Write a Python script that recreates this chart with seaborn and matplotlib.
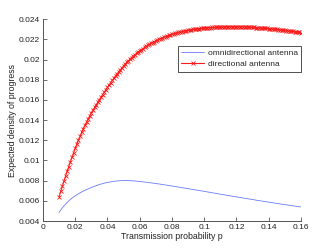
#Import Libraries
import pandas as pd
import matplotlib
matplotlib.use('Agg')
import matplotlib.pyplot as plt
import seaborn as sns

#Data
#omnidirectional antenna (plain line)
p_omni = [0.010, 0.012, 0.014, 0.016, 0.018, 0.020, 0.022, 0.024, 0.026, 0.028,
          0.030, 0.032, 0.034, 0.036, 0.038, 0.040, 0.042, 0.044, 0.046, 0.048,
          0.050, 0.052, 0.054, 0.056, 0.058, 0.060, 0.062, 0.064, 0.066, 0.068,
          0.070, 0.072, 0.074, 0.076, 0.078, 0.080, 0.082, 0.084, 0.086, 0.088,
          0.090, 0.092, 0.094, 0.096, 0.098, 0.100, 0.102, 0.104, 0.106, 0.108,
          0.110, 0.112, 0.114, 0.116, 0.118, 0.120, 0.122, 0.124, 0.126, 0.128,
          0.130, 0.132, 0.134, 0.136, 0.138, 0.140, 0.142, 0.144, 0.146, 0.148,
          0.150, 0.152, 0.154, 0.156, 0.158, 0.160]

omni = [0.00486, 0.00530, 0.00568, 0.00600, 0.00627, 0.00650, 0.00670, 0.00688, 0.00704, 0.00718,
        0.00733, 0.00745, 0.00756, 0.00766, 0.00775, 0.00782, 0.00788, 0.00793, 0.00797, 0.00800,
        0.00801, 0.00801, 0.00800, 0.00798, 0.00795, 0.00792, 0.00788, 0.00784, 0.00780, 0.00776,
        0.00771, 0.00767, 0.00762, 0.00757, 0.00752, 0.00747, 0.00742, 0.00737, 0.00731, 0.00726,
        0.00721, 0.00715, 0.00710, 0.00705, 0.00699, 0.00694, 0.00688, 0.00683, 0.00677, 0.00672,
        0.00666, 0.00661, 0.00655, 0.00650, 0.00644, 0.00639, 0.00634, 0.00628, 0.00623, 0.00618,
        0.00613, 0.00607, 0.00602, 0.00597, 0.00592, 0.00587, 0.00582, 0.00577, 0.00572, 0.00567,
        0.00562, 0.00558, 0.00553, 0.00548, 0.00544, 0.00539]

#directional antenna (line with x markers, dense sampling)
p_dir = [0.010, 0.011, 0.012, 0.013, 0.014, 0.015, 0.016, 0.017, 0.018, 0.019,
         0.020, 0.021, 0.022, 0.023, 0.024, 0.025, 0.026, 0.027, 0.028, 0.029,
         0.030, 0.031, 0.032, 0.033, 0.034, 0.035, 0.036, 0.037, 0.038, 0.039,
         0.040, 0.041, 0.042, 0.043, 0.044, 0.045, 0.046, 0.047, 0.048, 0.049,
         0.050, 0.051, 0.052, 0.053, 0.054, 0.055, 0.056, 0.057, 0.058, 0.059,
         0.060, 0.061, 0.062, 0.063, 0.064, 0.065, 0.066, 0.067, 0.068, 0.069,
         0.070, 0.071, 0.072, 0.073, 0.074, 0.075, 0.076, 0.077, 0.078, 0.079,
         0.080, 0.081, 0.082, 0.083, 0.084, 0.085, 0.086, 0.087, 0.088, 0.089,
         0.090, 0.091, 0.092, 0.093, 0.094, 0.095, 0.096, 0.097, 0.098, 0.099,
         0.100, 0.101, 0.102, 0.103, 0.104, 0.105, 0.106, 0.107, 0.108, 0.109,
         0.110, 0.111, 0.112, 0.113, 0.114, 0.115, 0.116, 0.117, 0.118, 0.119,
         0.120, 0.121, 0.122, 0.123, 0.124, 0.125, 0.126, 0.127, 0.128, 0.129,
         0.130, 0.131, 0.132, 0.133, 0.134, 0.135, 0.136, 0.137, 0.138, 0.139,
         0.140, 0.141, 0.142, 0.143, 0.144, 0.145, 0.146, 0.147, 0.148, 0.149,
         0.150, 0.151, 0.152, 0.153, 0.154, 0.155, 0.156, 0.157, 0.158, 0.159,
         0.160]

directional = [0.00640, 0.00693, 0.00744, 0.00795, 0.00844, 0.00893, 0.00940, 0.00987, 0.01032, 0.01077,
               0.01120, 0.01162, 0.01202, 0.01241, 0.01278, 0.01314, 0.01348, 0.01381, 0.01412, 0.01443,
               0.01472, 0.01500, 0.01526, 0.01552, 0.01578, 0.01603, 0.01628, 0.01653, 0.01677, 0.01701,
               0.01725, 0.01749, 0.01772, 0.01795, 0.01817, 0.01839, 0.01860, 0.01880, 0.01900, 0.01919,
               0.01938, 0.01956, 0.01973, 0.01989, 0.02005, 0.02020, 0.02035, 0.02049, 0.02062, 0.02075,
               0.02087, 0.02099, 0.02110, 0.02121, 0.02131, 0.02141, 0.02151, 0.02160, 0.02169, 0.02178,
               0.02186, 0.02194, 0.02201, 0.02208, 0.02215, 0.02222, 0.02228, 0.02234, 0.02240, 0.02245,
               0.02250, 0.02255, 0.02260, 0.02265, 0.02269, 0.02273, 0.02277, 0.02281, 0.02284, 0.02287,
               0.02290, 0.02293, 0.02296, 0.02299, 0.02301, 0.02303, 0.02305, 0.02307, 0.02309, 0.02311,
               0.02312, 0.02314, 0.02315, 0.02317, 0.02318, 0.02319, 0.02320, 0.02321, 0.02322, 0.02323,
               0.02324, 0.02325, 0.02325, 0.02326, 0.02326, 0.02327, 0.02327, 0.02327, 0.02327, 0.02327,
               0.02327, 0.02327, 0.02326, 0.02326, 0.02325, 0.02325, 0.02324, 0.02323, 0.02322, 0.02321,
               0.02320, 0.02319, 0.02318, 0.02317, 0.02316, 0.02315, 0.02313, 0.02312, 0.02310, 0.02309,
               0.02307, 0.02306, 0.02304, 0.02302, 0.02300, 0.02299, 0.02297, 0.02295, 0.02293, 0.02291,
               0.02289, 0.02287, 0.02285, 0.02283, 0.02281, 0.02279, 0.02276, 0.02274, 0.02272, 0.02270,
               0.02267]

x_ticks = [0, 0.02, 0.04, 0.06, 0.08, 0.1, 0.12, 0.14, 0.16]
x_labels = ['0', '0.02', '0.04', '0.06', '0.08', '0.1', '0.12', '0.14', '0.16']
y_ticks = [0.004, 0.006, 0.008, 0.01, 0.012, 0.014, 0.016, 0.018, 0.02, 0.022, 0.024]
y_labels = ['0.004', '0.006', '0.008', '0.01', '0.012', '0.014', '0.016', '0.018', '0.02', '0.022', '0.024']

omni_df = pd.DataFrame({'p': p_omni, 'density': omni})
dir_df = pd.DataFrame({'p': p_dir, 'density': directional})

#Style
sns.set_style('ticks')
plt.rcParams['font.family'] = ['Liberation Sans', 'DejaVu Sans']
plt.rcParams['xtick.direction'] = 'in'
plt.rcParams['ytick.direction'] = 'in'

fig = plt.figure(figsize=(3.32, 2.50), dpi=100)
ax = fig.add_axes([0.1295, 0.116, 0.777, 0.807])

sns.lineplot(data=omni_df, x='p', y='density', color='#6b7cff', linewidth=0.6,
             label='omnidirectional antenna', ax=ax)
sns.lineplot(data=dir_df, x='p', y='density', color='#ff1a1a', linewidth=0.8,
             marker='x', markersize=3.4, markeredgewidth=0.6, markeredgecolor='#ff1a1a',
             label='directional antenna', ax=ax)

ax.set_xlim(0, 0.16)
ax.set_ylim(0.004, 0.024)
ax.set_xticks(x_ticks)
ax.set_xticklabels(x_labels)
ax.set_yticks(y_ticks)
ax.set_yticklabels(y_labels)
ax.tick_params(labelsize=6, length=3, width=0.6, color='#555555', labelcolor='#222222', pad=2)

for side in ['top', 'right']:
    ax.spines[side].set_visible(False)
for side in ['left', 'bottom']:
    ax.spines[side].set_color('#555555')
    ax.spines[side].set_linewidth(0.7)

ax.set_xlabel('Transmission probability p', fontsize=6.3, color='#222222', labelpad=1)
ax.set_ylabel('Expected density of progress', fontsize=6.3, color='#222222', labelpad=1.5)

leg = ax.legend(loc='upper right', bbox_to_anchor=(1.0, 0.868), borderaxespad=0,
                fontsize=6, frameon=True, fancybox=False, handlelength=2.8,
                handletextpad=0.4, borderpad=0.4, labelspacing=0.4)
leg.get_frame().set_edgecolor('black')
leg.get_frame().set_linewidth(0.6)

plt.savefig('out.png', dpi=100)
